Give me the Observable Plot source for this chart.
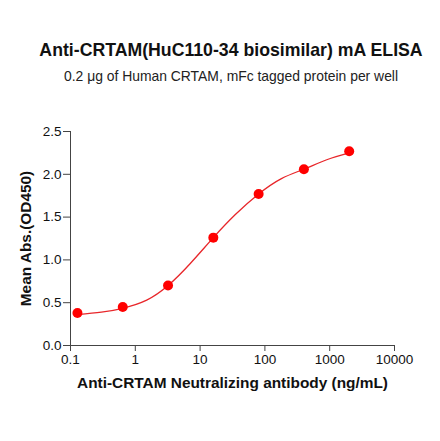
<!DOCTYPE html>
<html>
<head>
<meta charset="utf-8">
<script src="https://cdn.jsdelivr.net/npm/d3@7"></script>
<script src="https://cdn.jsdelivr.net/npm/@observablehq/plot@0.6"></script>
<style>
  body { margin: 0; background: #fff; font-family: "Liberation Sans", Arial, sans-serif; }
  #head { height: 100px; position: relative; }
  #title { position: absolute; top: 40px; left: 0; width: 462px; text-align: center; font-weight: bold; font-size: 17.7px; color: #111; }
  #sub { position: absolute; top: 68px; left: 0; width: 462px; text-align: center; font-size: 13.9px; color: #222; }
</style>
</head>
<body>
<div id="head">
  <div id="title">Anti-CRTAM(HuC110-34 biosimilar) mA ELISA</div>
  <div id="sub">0.2 μg of Human CRTAM, mFc tagged protein per well</div>
</div>
<div id="grafico"></div>
<script>
// measured points (ng/mL, OD450)
const conc = [0.128, 0.64, 3.2, 16, 80, 400, 2000];
const od = [0.38, 0.45, 0.70, 1.26, 1.77, 2.06, 2.27];

// fitted curve
const curveConc = [0.128, 0.3, 0.64, 1.5, 3.2, 7, 16, 35, 80, 180, 400, 900, 2000];
const curveOd = [0.36, 0.39, 0.435, 0.53, 0.70, 0.955, 1.26, 1.53, 1.77, 1.95, 2.06, 2.17, 2.25];

const xTicks = [0.1, 1, 10, 100, 1000, 10000];
const yTicks = [0, 0.5, 1, 1.5, 2, 2.5];

const points = conc.map((c, i) => ({x: c, y: od[i]}));
const fit = curveConc.map((c, i) => ({x: c, y: curveOd[i]}));

let chart = Plot.plot({
  width: 440,
  height: 341,
  marginLeft: 70,
  marginRight: 46,
  marginTop: 31,
  marginBottom: 96,
  style: {fontFamily: '"Liberation Sans", Arial, sans-serif', fontSize: "13.5px", color: "#111"},
  x: {type: "log", domain: [0.1, 10000]},
  y: {domain: [0, 2.5]},
  marks: [
    Plot.axisX({ticks: xTicks, tickFormat: d => String(d), tickSize: 6, tickPadding: 3, label: null, stroke: "#444"}),
    Plot.axisY({ticks: yTicks, tickFormat: d3.format(".1f"), tickSize: 7, tickPadding: 2, label: null, stroke: "#444"}),
    Plot.ruleY([0], {stroke: "#444"}),
    Plot.ruleX([0.1], {stroke: "#444"}),
    Plot.line(fit, {x: "x", y: "y", stroke: "#e8262a", strokeWidth: 1.3, curve: "natural"}),
    Plot.dot(points, {x: "x", y: "y", r: 5, fill: "#ff0000", stroke: "none"}),
    Plot.text(["Anti-CRTAM Neutralizing antibody (ng/mL)"], {frameAnchor: "bottom", dy: 42, fontWeight: "bold", fontSize: 15.4, fill: "#111"}),
    Plot.text(["Mean Abs.(OD450)"], {frameAnchor: "left", textAnchor: "middle", dx: -44, rotate: -90, fontWeight: "bold", fontSize: 15.4, fill: "#111"})
  ]
});

d3.select('#grafico').append(() => chart);
</script>
</body>
</html>
